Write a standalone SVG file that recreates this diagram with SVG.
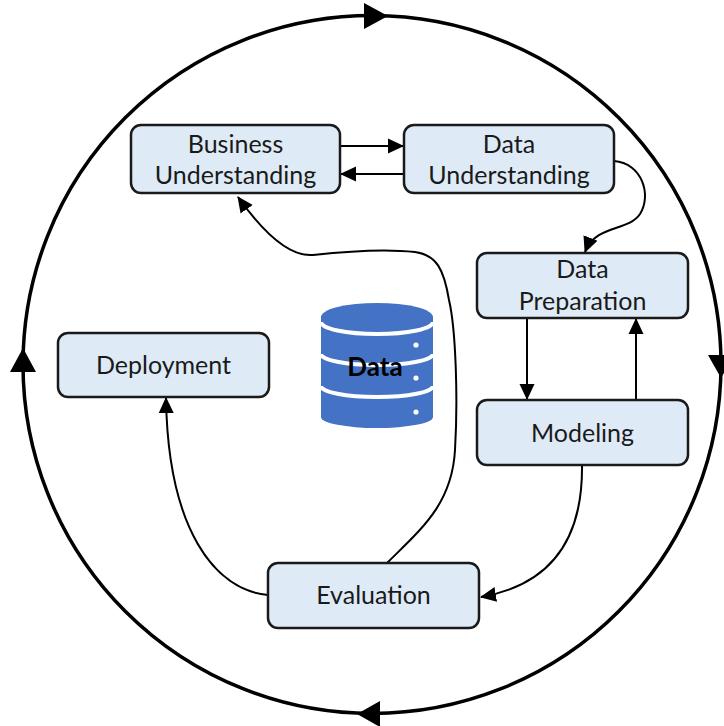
<svg xmlns="http://www.w3.org/2000/svg" width="724" height="726" viewBox="0 0 724 726">
<style>
.box{fill:#DEEBF7;stroke:#1a1a1a;stroke-width:2.5}
.lbl{font-family:Lato,"Liberation Sans",sans-serif;font-size:25px;fill:#1a1a1a;text-anchor:middle}
.con{fill:none;stroke:#000;stroke-width:2}
.ring{fill:none;stroke:#000;stroke-width:3.5}
</style>
<defs>
<marker id="ah" markerUnits="userSpaceOnUse" markerWidth="16" markerHeight="16" refX="15" refY="7.5" orient="auto" viewBox="0 0 16 15">
<polygon points="0,0 16,7.5 0,15" fill="#000"/>
</marker>
</defs>
<rect width="724" height="726" fill="#fff"/>
<g id="cycle">
<circle class="ring" cx="372" cy="364.5" r="349"/>
<polygon points="364,3 388,16 364,29" fill="#000"/>
<polygon points="708,355 734,355 721,378" fill="#000"/>
<polygon points="380,701 357,714 380,727" fill="#000"/>
<polygon points="10,372 23,348 36,372" fill="#000"/>
</g>
<g id="connectors">
<line class="con" x1="340" y1="146" x2="403" y2="146" marker-end="url(#ah)"/>
<line class="con" x1="404" y1="174" x2="341" y2="174" marker-end="url(#ah)"/>
<path class="con" d="M614,161 C642,163 652,195 640,214 C628,232 596,224 585,252" marker-end="url(#ah)"/>
<line class="con" x1="527" y1="318" x2="527" y2="399" marker-end="url(#ah)"/>
<line class="con" x1="636" y1="400" x2="636" y2="319" marker-end="url(#ah)"/>
<path class="con" d="M582,465 C583,540 550,585 481,597" marker-end="url(#ah)"/>
<path class="con" d="M268,595 C215,590 168,530 166,398" marker-end="url(#ah)"/>
<path class="con" d="M387,563 C420,530 452,505 455,450 C458,400 456,330 449,300 C444,270 437,255 415,252 C380,248 340,252 313,255 C290,257 265,235 238,197" marker-end="url(#ah)"/>
</g>
<g id="data">
<path d="M321,317 L321,417 A56,11 0 0 0 433,417 L433,317 Z" fill="#4472C4"/>
<ellipse cx="377" cy="317" rx="56" ry="14" fill="#4472C4"/>
<path d="M321,322 A56,12 0 0 0 433,322" fill="none" stroke="#fff" stroke-width="4"/>
<path d="M321,354 A56,11 0 0 0 433,354" fill="none" stroke="#fff" stroke-width="4"/>
<path d="M321,386 A56,11 0 0 0 433,386" fill="none" stroke="#fff" stroke-width="4"/>
<circle cx="416" cy="345" r="2.6" fill="#fff"/>
<circle cx="416" cy="378" r="2.6" fill="#fff"/>
<circle cx="416" cy="412" r="2.6" fill="#fff"/>
<text x="375" y="376" font-family="Lato,'Liberation Sans',sans-serif" font-size="26" font-weight="bold" fill="#000" text-anchor="middle">Data</text>
</g>
<g id="business-understanding">
<rect class="box" x="131" y="125" width="209" height="68" rx="10"/>
<text class="lbl" x="235.5" y="153">Business</text>
<text class="lbl" x="235.5" y="184">Understanding</text>
</g>
<g id="data-understanding">
<rect class="box" x="404" y="125" width="210" height="68" rx="10"/>
<text class="lbl" x="509" y="153">Data</text>
<text class="lbl" x="509" y="184">Understanding</text>
</g>
<g id="data-preparation">
<rect class="box" x="477" y="253" width="211" height="65" rx="10"/>
<text class="lbl" x="582.5" y="278">Data</text>
<text class="lbl" x="582.5" y="310">Preparation</text>
</g>
<g id="modeling">
<rect class="box" x="477" y="400" width="211" height="65" rx="10"/>
<text class="lbl" x="582.5" y="442">Modeling</text>
</g>
<g id="deployment">
<rect class="box" x="58" y="333" width="211" height="64" rx="10"/>
<text class="lbl" x="163.5" y="374">Deployment</text>
</g>
<g id="evaluation">
<rect class="box" x="268" y="563" width="211" height="65" rx="10"/>
<text class="lbl" x="373.5" y="604">Evaluation</text>
</g>
</svg>
